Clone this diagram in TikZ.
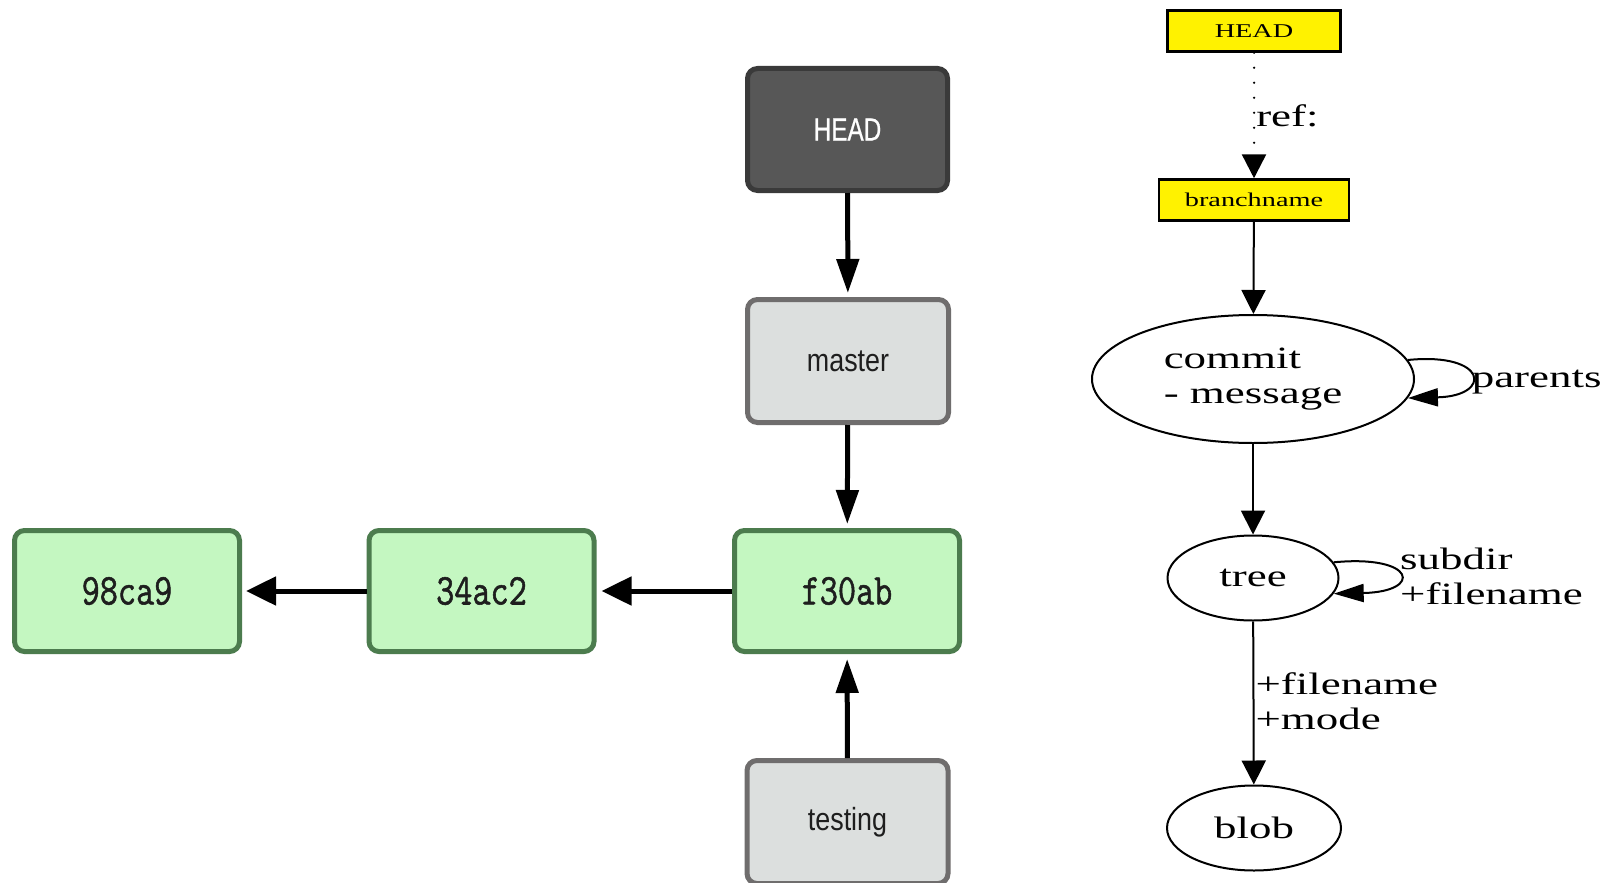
\documentclass[tikz,border=0pt]{standalone}
\usepackage{fontspec}
\usetikzlibrary{arrows.meta,shapes.geometric}
% fonts
\newfontfamily\headfont[FakeStretch=0.76,FakeBold=0.6]{Liberation Sans}
\newfontfamily\branchfont[FakeStretch=0.84]{Liberation Sans}
\newfontfamily\shafont[FakeStretch=0.8,FakeBold=1.2]{Latin Modern Mono}
\newfontfamily\gvfont[FakeStretch=1.45]{Liberation Serif}
% colours
\definecolor{headfill}{HTML}{575757}
\definecolor{headline}{HTML}{3A3A3A}
\definecolor{branchfill}{HTML}{DCDFDE}
\definecolor{branchline}{HTML}{6F6D6D}
\definecolor{commitfill}{HTML}{C4F7C1}
\definecolor{commitline}{HTML}{4C7C4E}
\definecolor{labeltext}{HTML}{1E1E1E}
\tikzset{
  headbox/.style={draw=headline, fill=headfill, line width=5pt, rounded corners=10pt,
    minimum width=200pt, minimum height=122pt, inner sep=0pt, text=white,
    font=\headfont\fontsize{32}{38}\selectfont},
  branchbox/.style={draw=branchline, fill=branchfill, line width=5pt, rounded corners=10pt,
    minimum width=201pt, minimum height=123pt, inner sep=0pt, text=labeltext,
    font=\branchfont\fontsize{32}{38}\selectfont},
  commitbox/.style={draw=commitline, fill=commitfill, line width=5pt, rounded corners=10pt,
    minimum width=225pt, minimum height=121pt, inner sep=0pt, text=labeltext,
    font=\shafont\fontsize{44}{50}\selectfont},
  vlink/.style={line width=5pt, -{Triangle[length=34pt,width=22pt]}, shorten >=4pt},
  hlink/.style={line width=5pt, -{Triangle[length=30pt,width=28pt]}, shorten >=4pt},
  gvbox/.style={draw, fill=yellow, line width=2.5pt, inner sep=0pt,
    minimum height=41pt, font=\gvfont\fontsize{19.5}{22}\selectfont},
  gvnode/.style={ellipse, draw, line width=2pt, inner sep=0pt,
    font=\gvfont\fontsize{31}{35}\selectfont},
  gvedge/.style={line width=2pt, -{Triangle[length=24pt,width=24pt]}},
  gvloop/.style={line width=2pt, -{Triangle[length=30pt,width=18pt]}},
  gvlabel/.style={font=\gvfont\fontsize{31}{35}\selectfont, inner sep=1pt, align=left}
}
\begin{document}
\begin{tikzpicture}[x=1pt,y=-1pt]
\clip (0,0) rectangle (1617,883);
\fill[white] (0,0) rectangle (1617,883);

% ---- branch pointers and commits ----
\node[headbox]   (lhead)   at (847.5,129.5) {HEAD};
\node[branchbox] (master)  at (848,361)     {master};
\node[commitbox] (f30ab)   at (847,591)     {f30ab};
\node[commitbox] (c34ac2)  at (481.5,591)   {34ac2};
\node[commitbox] (c98ca9)  at (127,591)     {98ca9};
\node[branchbox] (testing) at (847.5,822)   {testing};

\draw[vlink] (lhead) -- (master);
\draw[vlink] (master) -- (f30ab);
\draw[vlink, shorten >=5pt] (testing) -- (f30ab);
\draw[hlink, shorten >=5pt] (f30ab) -- (c34ac2);
\draw[hlink] (c34ac2) -- (c98ca9);

% ---- object model ----
\node[gvbox, minimum width=173pt] (ghead)  at (1254,31)  {HEAD};
\node[gvbox, minimum width=190pt] (gbranch) at (1254,200) {branchname};
\node[gvnode, minimum width=322pt, minimum height=128pt, align=left] (commit) at (1253,379) {commit\\- message};
\node[gvnode, minimum width=171pt, minimum height=85pt] (tree) at (1253,578) {tree};
\node[gvnode, minimum width=174pt, minimum height=85pt] (blob) at (1254,828) {blob};

\draw[gvedge, line width=2.5pt, dash pattern=on 0pt off 15pt, line cap=round]
  (ghead) -- node[gvlabel, anchor=west] {ref:} (gbranch);
\draw[gvedge] (gbranch) -- (commit);
\draw[gvedge] (commit) -- (tree);
\draw[gvedge] (tree) -- node[gvlabel, anchor=west, yshift=2pt] {+filename\\+mode} (blob);

\draw[gvloop] (commit.7) .. controls +(80,-8) and +(85,-2) ..
  node[gvlabel, anchor=west, yshift=-7pt] {parents} (commit.-7);
\draw[gvloop] (tree.11) .. controls +(82,-8) and +(90,-2) ..
  node[gvlabel, anchor=west, yshift=-2pt] {subdir\\+filename} (tree.-11);
\end{tikzpicture}
\end{document}
